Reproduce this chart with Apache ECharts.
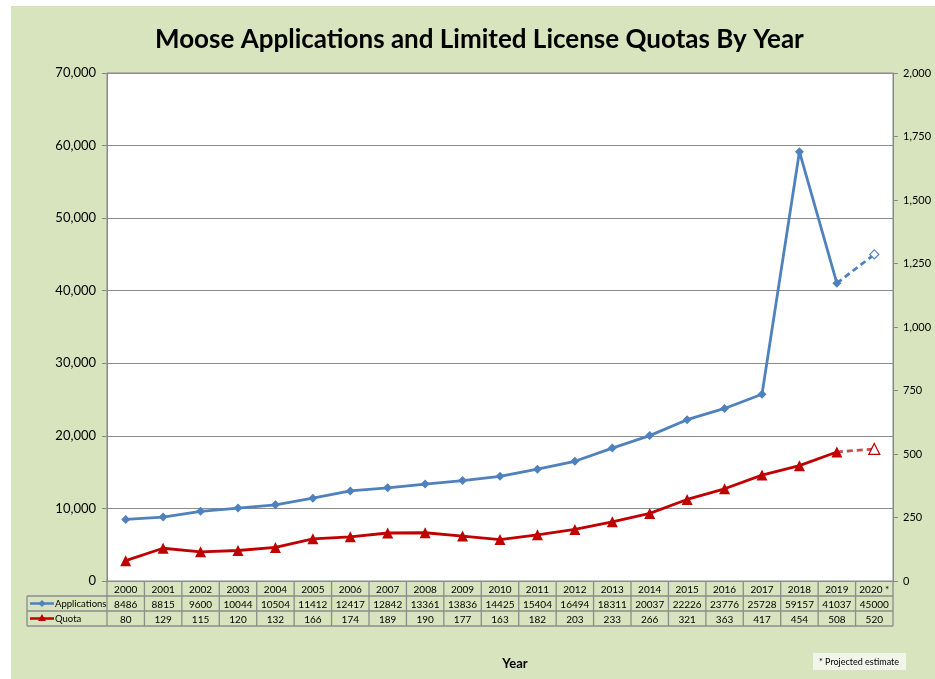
<!DOCTYPE html>
<html>
<head>
<meta charset="utf-8">
<script src="https://cdn.jsdelivr.net/npm/echarts@6/dist/echarts.min.js"></script>
<style>
  html, body { margin: 0; padding: 0; background: #fff; }
  #chart { width: 935px; height: 679px; }
</style>
</head>
<body>
<div id="chart"></div>
<script>
// chart data
let years = ['2000', '2001', '2002', '2003', '2004', '2005', '2006', '2007', '2008', '2009', '2010',
    '2011', '2012', '2013', '2014', '2015', '2016', '2017', '2018', '2019', '2020 *'];
let applications = [8486, 8815, 9600, 10044, 10504, 11412, 12417, 12842, 13361, 13836, 14425,
    15404, 16494, 18311, 20037, 22226, 23776, 25728, 59157, 41037, 45000];
let quota = [80, 129, 115, 120, 132, 166, 174, 189, 190, 177, 163,
    182, 203, 233, 266, 321, 363, 417, 454, 508, 520];
let projectedFrom = 19; // index of last actual year (2019)

let blue = '#4F81BD';
let red = '#C00000';
let font = 'Lato';

function solidPart(arr) {
    return arr.map(function (v, i) { return i <= projectedFrom ? v : null; });
}
function dashedPart(arr) {
    return arr.map(function (v, i) {
        if (i < projectedFrom) return null;
        if (i === projectedFrom) return {value: v, symbol: 'none'};
        return v;
    });
}
function fmt(v) {
    return v.toString().replace(/\B(?=(\d{3})+(?!\d))/g, ',');
}

let dom = document.getElementById('chart');
let myChart = echarts.init(dom);

let option = {
    backgroundColor: '#fff',
    animation: false,
    title: {
        text: 'Moose Applications and Limited License Quotas By Year',
        left: 150,
        top: 22,
        textStyle: {fontFamily: font, fontSize: 26, fontWeight: 'bold', color: '#000'}
    },
    grid: {left: 107, top: 73, width: 786, height: 508, show: true,
        backgroundColor: '#fff', borderColor: '#888', borderWidth: 1},
    xAxis: {
        type: 'category',
        data: years,
        boundaryGap: true,
        axisLine: {show: false},
        axisTick: {show: false},
        axisLabel: {show: false},
        splitLine: {show: false}
    },
    yAxis: [
        {
            type: 'value', min: 0, max: 70000, interval: 10000,
            axisLine: {show: true, lineStyle: {color: '#888'}},
            axisTick: {show: true, length: 5, lineStyle: {color: '#888'}},
            axisLabel: {fontFamily: font, fontSize: 13, color: '#000', margin: 11, formatter: fmt},
            splitLine: {show: true, lineStyle: {color: '#8c8c8c', width: 1}}
        },
        {
            type: 'value', min: 0, max: 2000, interval: 250, position: 'right',
            axisLine: {show: true, lineStyle: {color: '#888'}},
            axisTick: {show: true, length: 5, lineStyle: {color: '#888'}},
            axisLabel: {fontFamily: font, fontSize: 11, color: '#000', margin: 10, formatter: fmt},
            splitLine: {show: false}
        }
    ],
    series: [
        {
            name: 'Applications', type: 'line', yAxisIndex: 0,
            data: solidPart(applications),
            symbol: 'diamond', symbolSize: 9,
            lineStyle: {color: blue, width: 2.8},
            itemStyle: {color: blue}
        },
        {
            name: 'Applications projected', type: 'line', yAxisIndex: 0,
            data: dashedPart(applications),
            symbol: 'diamond', symbolSize: 9,
            lineStyle: {color: blue, width: 2.8, type: [6, 4]},
            itemStyle: {color: '#fff', borderColor: blue, borderWidth: 1.2}
        },
        {
            name: 'Quota', type: 'line', yAxisIndex: 1,
            data: solidPart(quota),
            symbol: 'triangle', symbolSize: 11,
            lineStyle: {color: red, width: 2.8},
            itemStyle: {color: red}
        },
        {
            name: 'Quota projected', type: 'line', yAxisIndex: 1,
            data: dashedPart(quota),
            symbol: 'triangle', symbolSize: 11,
            lineStyle: {color: '#c0504d', width: 2.8, type: [6, 4]},
            itemStyle: {color: '#fff', borderColor: red, borderWidth: 1.2}
        }
    ]
};
myChart.setOption(option, true);

// data table under the plot, aligned to the category axis
let g = [];
// green chart background
g.push({type: 'rect', z: -10, silent: true, shape: {x: 11, y: 6, width: 924, height: 673},
    style: {fill: '#D7E4BD'}});

let half = 786 / years.length / 2;
let rowTop = [581, 596, 611];
let rowH = 15;
let lineColor = '#8c8c8c';
let textStyle = {fontFamily: font, fontSize: 10, fill: '#000', align: 'center', verticalAlign: 'middle'};

years.forEach(function (yr, i) {
    let cx = myChart.convertToPixel({xAxisIndex: 0}, yr);
    g.push({type: 'text', style: Object.assign({text: yr, x: cx, y: rowTop[0] + rowH / 2 + 1}, textStyle)});
    g.push({type: 'text', style: Object.assign({text: String(applications[i]), x: cx, y: rowTop[1] + rowH / 2 + 1}, textStyle)});
    g.push({type: 'text', style: Object.assign({text: String(quota[i]), x: cx, y: rowTop[2] + rowH / 2 + 1}, textStyle)});
    // vertical cell line on the right of each column
    g.push({type: 'line', shape: {x1: cx + half, y1: 581, x2: cx + half, y2: 626},
        style: {stroke: lineColor, lineWidth: 1.3}});
});
// left border of the year columns
g.push({type: 'line', shape: {x1: 107, y1: 581, x2: 107, y2: 626}, style: {stroke: lineColor, lineWidth: 1.3}});
// left border of legend column
g.push({type: 'line', shape: {x1: 27, y1: 596, x2: 27, y2: 626}, style: {stroke: lineColor, lineWidth: 1.3}});
// horizontal lines
g.push({type: 'line', shape: {x1: 107, y1: 596, x2: 893, y2: 596}, style: {stroke: lineColor, lineWidth: 1.3}});
g.push({type: 'line', shape: {x1: 27, y1: 596, x2: 107, y2: 596}, style: {stroke: lineColor, lineWidth: 1.3}});
g.push({type: 'line', shape: {x1: 27, y1: 611, x2: 893, y2: 611}, style: {stroke: lineColor, lineWidth: 1.3}});
g.push({type: 'line', shape: {x1: 27, y1: 626, x2: 893, y2: 626}, style: {stroke: lineColor, lineWidth: 1.3}});

// legend keys inside the table
g.push({type: 'line', shape: {x1: 30, y1: 603.5, x2: 54, y2: 603.5}, style: {stroke: blue, lineWidth: 2.5}});
g.push({type: 'polygon', shape: {points: [[42, 600], [45.5, 603.5], [42, 607], [38.5, 603.5]]}, style: {fill: blue}});
g.push({type: 'text', style: {text: 'Applications', x: 55, y: 604, fontFamily: font, fontSize: 9.5,
    fill: '#000', verticalAlign: 'middle'}});
g.push({type: 'line', shape: {x1: 30, y1: 618.5, x2: 54, y2: 618.5}, style: {stroke: red, lineWidth: 2.5}});
g.push({type: 'polygon', shape: {points: [[42, 614], [46, 621], [38, 621]]}, style: {fill: red}});
g.push({type: 'text', style: {text: 'Quota', x: 55, y: 619, fontFamily: font, fontSize: 9.5,
    fill: '#000', verticalAlign: 'middle'}});

// axis title
g.push({type: 'text', style: {text: 'Year', x: 515, y: 664, fontFamily: font, fontSize: 13,
    fontWeight: 'bold', fill: '#000', align: 'center', verticalAlign: 'middle'}});
// footnote box
g.push({type: 'rect', shape: {x: 813, y: 653, width: 93, height: 17}, style: {fill: '#F2F5EA'}});
g.push({type: 'text', style: {text: '* Projected estimate', x: 859, y: 662, fontFamily: font, fontSize: 9,
    fill: '#000', align: 'center', verticalAlign: 'middle'}});

myChart.setOption({graphic: g});
</script>
</body>
</html>
